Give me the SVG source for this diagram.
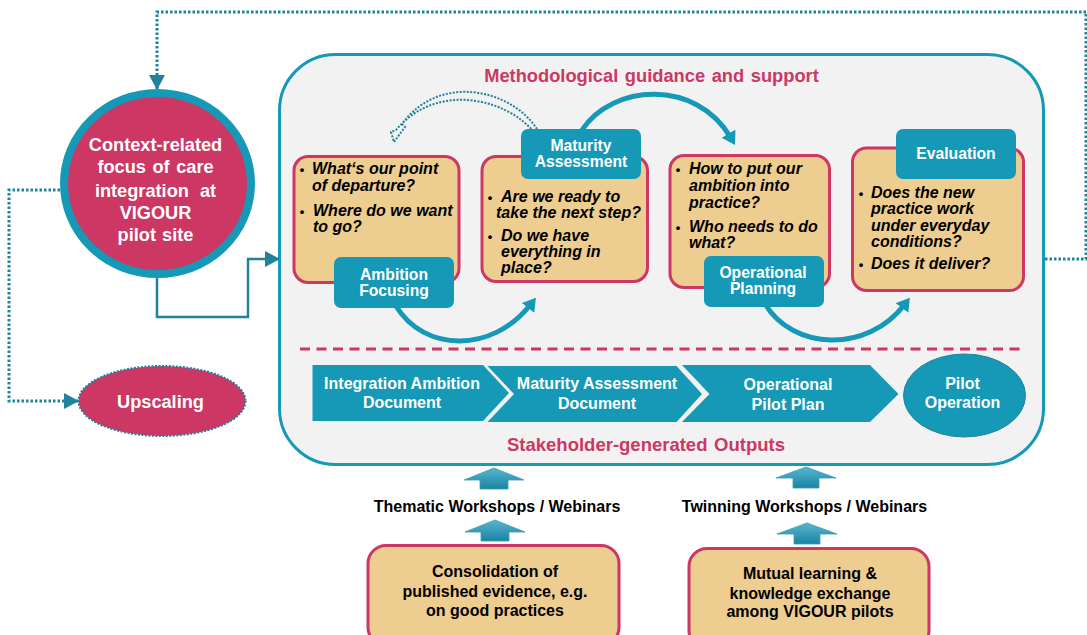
<svg xmlns="http://www.w3.org/2000/svg" width="1087" height="635" viewBox="0 0 1087 635">
<style>
text{font-family:"Liberation Sans",Arial,sans-serif;font-weight:700}
.w{fill:#fff;text-anchor:middle}
.k{fill:#000;text-anchor:middle;font-size:16px}
.q{fill:#000;font-size:16px;font-style:italic}
.b{fill:#000;font-size:13px;text-anchor:middle}
.p{fill:#cc3764;text-anchor:middle;font-size:18.500px}
.box{fill:#eecd90;stroke:#cc3764;stroke-width:3}
.tab{fill:#1599b7}
.t{font-size:15.700px}
.c{font-size:18.200px}
.d{font-size:16px}
.sol{fill:none;stroke:#1599b7;stroke-width:5}
.dot{fill:none;stroke:#21829d;stroke-width:3;stroke-dasharray:2.500 2}
.up{fill:url(#ug);stroke:#3a9db5;stroke-width:.8}
.ch{fill:#1599b7}
</style>
<defs>
<linearGradient id="ug" x1="0" y1="0" x2="0" y2="1"><stop offset="0" stop-color="#58b6cf"/><stop offset="1" stop-color="#1a83a3"/></linearGradient>
<marker id="ah" markerUnits="userSpaceOnUse" markerWidth="16" markerHeight="18" refX="14" refY="8" orient="auto"><path d="M0 0L15 8L0 16z" fill="#21829d"/></marker>
<marker id="cu" markerUnits="userSpaceOnUse" markerWidth="16" markerHeight="18" refX="5" refY="8" orient="auto"><path d="M0 0L13 8L0 16z" fill="#1599b7"/></marker>
</defs>

<g id="main-panel"><rect x="279.500" y="54.500" width="764" height="410" rx="56" fill="#f2f2f2" stroke="#1599b7" stroke-width="3"/>
<text class="p" x="651.500" y="82" font-size="18.300" style="font-size:18.300px" word-spacing="1.500">Methodological guidance and support</text>
<text class="p" x="646" y="451" word-spacing="1.500">Stakeholder-generated Outputs</text>
<path d="M300 349H1021" stroke="#cc3764" stroke-width="3" stroke-dasharray="10 6.500" fill="none"/></g>

<g id="connectors">
<path class="dot" d="M1045 259H1086V12H157V89" marker-end="url(#ah)"/>
<path class="dot" d="M60 190H9V401H78" marker-end="url(#ah)"/>
<path d="M157 278V317H248V259H279" fill="none" stroke="#21829d" stroke-width="2.500" marker-end="url(#ah)"/>
<path class="sol" d="M396 306C424 352 492 354 531 304" marker-end="url(#cu)"/>
<path class="sol" d="M765 304C793 350 867 354 905 304" marker-end="url(#cu)"/>
<path class="sol" d="M582 130C612 84 696 78 731 138" marker-end="url(#cu)"/>
<path d="M537 129C512 90 440 72 402 124L405 127L394 142L391 132L396 130C436 82 505 98 533 131" fill="none" stroke="#21829d" stroke-width="2" stroke-dasharray="2 1.500"/>
</g>

<g id="context-focus"><ellipse cx="157.500" cy="183.500" rx="93.500" ry="90.500" fill="#cc3764" stroke="#1599b7" stroke-width="8"/>
<text class="w c" x="155.500" y="151">Context-related</text>
<text class="w c" x="155.500" y="173" word-spacing="1.500">focus of care</text>
<text class="w c" x="155.500" y="197" word-spacing="6">integration at</text>
<text class="w c" x="155.500" y="219">VIGOUR</text>
<text class="w c" x="155.500" y="241" word-spacing="1">pilot site</text></g>

<g id="upscaling"><ellipse cx="162" cy="401" rx="83.500" ry="35" fill="#cc3764" stroke="#21829d" stroke-width="2" stroke-dasharray="2 1.500"/>
<text class="w c" x="160.500" y="408">Upscaling</text></g>

<g id="ambition-focusing"><rect class="box" x="294" y="156.500" width="165" height="126" rx="14"/>
<text class="b" x="302" y="174">•</text><text class="q" x="312" y="174">What‘s our point</text><text class="q" x="312" y="191">of departure?</text>
<text class="b" x="302" y="216">•</text><text class="q" x="313" y="216">Where do we want</text><text class="q" x="313" y="232">to go?</text>
<rect class="tab" x="334" y="257" width="120" height="51" rx="7"/>
<text class="w t" x="394" y="280">Ambition</text><text class="w t" x="394" y="296">Focusing</text></g>

<g id="maturity-assessment"><rect class="box" x="482" y="156.500" width="165.500" height="125" rx="14"/>
<rect class="tab" x="521" y="129" width="120" height="50" rx="7"/>
<text class="w t" x="581" y="151">Maturity</text><text class="w t" x="581" y="167">Assessment</text>
<text class="b" x="490" y="202">•</text><text class="q" x="501" y="202">Are we ready to</text><text class="q" x="496" y="218">take the next step?</text>
<text class="b" x="490" y="241">•</text><text class="q" x="501" y="241">Do we have</text><text class="q" x="501" y="257">everything in</text><text class="q" x="501" y="273">place?</text></g>

<g id="operational-planning"><rect class="box" x="670" y="155.500" width="159.500" height="132" rx="14"/>
<text class="b" x="678" y="174">•</text><text class="q" x="689" y="174">How to put our</text><text class="q" x="689" y="191">ambition into</text><text class="q" x="689" y="208">practice?</text>
<text class="b" x="678" y="232">•</text><text class="q" x="689" y="232">Who needs to do</text><text class="q" x="689" y="248">what?</text>
<rect class="tab" x="704" y="256" width="120" height="51" rx="7"/>
<text class="w t" x="763" y="278">Operational</text><text class="w t" x="763" y="294">Planning</text></g>

<g id="evaluation"><rect class="box" x="852.500" y="148" width="171" height="142.500" rx="14"/>
<rect class="tab" x="896" y="129" width="120" height="50" rx="7"/>
<text class="w t" x="956" y="159">Evaluation</text>
<text class="b" x="861" y="198">•</text><text class="q" x="871" y="198">Does the new</text><text class="q" x="871" y="214">practice work</text><text class="q" x="871" y="231">under everyday</text><text class="q" x="871" y="247">conditions?</text>
<text class="b" x="861" y="269">•</text><text class="q" x="871" y="269">Does it deliver?</text></g>

<g id="integration-ambition-document"><path class="ch" d="M312.500 365H483L509 393L483 421H312.500z"/>
<text class="w d" x="402" y="389">Integration Ambition</text><text class="w d" x="402" y="408">Document</text></g>
<g id="maturity-assessment-document"><path class="ch" d="M487.500 366H676.500L702 394L676.500 422H487.500L514 394z"/>
<text class="w d" x="597" y="389">Maturity Assessment</text><text class="w d" x="597" y="409">Document</text></g>
<g id="operational-pilot-plan"><path class="ch" d="M682 365H870L898.500 394L870 422H682L709.500 394z"/>
<text class="w d" x="788" y="390">Operational</text><text class="w d" x="788" y="410">Pilot Plan</text></g>
<g id="pilot-operation"><ellipse class="ch" cx="964.500" cy="395.500" rx="61" ry="41.500" stroke="#21829d" stroke-width="1"/>
<text class="w d" x="962.500" y="389">Pilot</text><text class="w d" x="962.500" y="408">Operation</text></g>

<g id="thematic-workshops">
<path class="up" d="M494 468L524 480H508V489H480V480H464z"/>
<text class="k" x="497" y="512">Thematic Workshops / Webinars</text>
<path class="up" d="M495 520L525 532H509V541H481V532H465z"/></g>
<g id="twinning-workshops">
<path class="up" d="M806 467L836 478H819V488H793V478H776z"/>
<text class="k" x="804.500" y="512">Twinning Workshops / Webinars</text>
<path class="up" d="M807 523L837 534H820V544H794V534H777z"/></g>

<g id="consolidation"><rect class="box" x="368" y="545.500" width="251" height="100" rx="18"/>
<text class="k" x="495" y="577">Consolidation of</text><text class="k" x="495" y="597">published evidence, e.g.</text><text class="k" x="495" y="616">on good practices</text></g>
<g id="mutual-learning"><rect class="box" x="689" y="548.500" width="240" height="100" rx="18"/>
<text class="k" x="810" y="579">Mutual learning &amp;</text><text class="k" x="810" y="599">knowledge exchange</text><text class="k" x="810" y="617">among VIGOUR pilots</text></g>
</svg>
